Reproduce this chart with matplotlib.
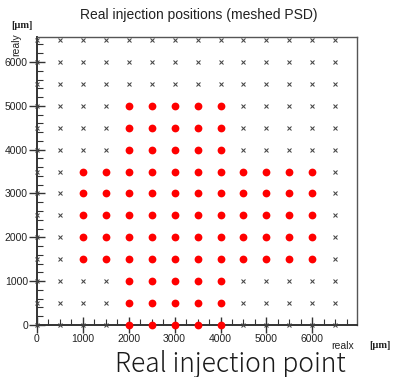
import matplotlib
matplotlib.use("Agg")
import matplotlib.pyplot as plt
from matplotlib.ticker import MultipleLocator

# Data
grid_x = [0, 500, 1000, 1500, 2000, 2500, 3000, 3500, 4000, 4500, 5000, 5500, 6000, 6500]
grid_y = [0, 500, 1000, 1500, 2000, 2500, 3000, 3500, 4000, 4500, 5000, 5500, 6000, 6500]
inner_x = [2000, 2500, 3000, 3500, 4000]
wide_x = [1000, 1500, 2000, 2500, 3000, 3500, 4000, 4500, 5000, 5500, 6000]
red_rows = [
    (0, inner_x), (500, inner_x), (1000, inner_x),
    (1500, wide_x), (2000, wide_x), (2500, wide_x), (3000, wide_x), (3500, wide_x),
    (4000, inner_x), (4500, inner_x), (5000, inner_x),
]
xticks = [0, 1000, 2000, 3000, 4000, 5000, 6000]
yticks = [0, 1000, 2000, 3000, 4000, 5000, 6000]

fig = plt.figure(figsize=(3.94, 3.77), dpi=100)
ax = fig.add_axes([37/394, 1-325/377, 320/394, 288/377])

cx = [x for y in grid_y for x in grid_x]
cy = [y for y in grid_y for x in grid_x]
ax.plot(cx, cy, 'x', color='#444444', markersize=3.4, mew=0.75, clip_on=False, zorder=3)

rx = [x for y, xs in red_rows for x in xs]
ry = [y for y, xs in red_rows for x in xs]
ax.plot(rx, ry, 'o', color='#ff0000', markersize=5.6, mew=0, clip_on=False, zorder=4)

ax.set_xlim(0, 6975)
ax.set_ylim(0, 6570)
ax.set_xticks(xticks)
ax.set_yticks(yticks)
ax.xaxis.set_minor_locator(MultipleLocator(250))
ax.yaxis.set_minor_locator(MultipleLocator(200))

lab_font = dict(family=['Liberation Sans', 'DejaVu Sans'], size=7.5)
ax.set_xticklabels([str(t) for t in xticks], fontdict=lab_font)
ax.set_yticklabels([str(t) for t in yticks], fontdict=lab_font)
ax.tick_params(axis='both', which='major', direction='inout', length=11, width=1.0,
               color='#333333', pad=1, labelcolor='#222222')
ax.tick_params(axis='both', which='minor', direction='in', length=4, width=0.8, color='#333333')
ax.tick_params(top=False, right=False)

for s in ['left', 'bottom']:
    ax.spines[s].set_linewidth(1.4)
    ax.spines[s].set_color('#333333')
for s in ['top', 'right']:
    ax.spines[s].set_linewidth(1.0)
    ax.spines[s].set_color('#555555')

fig.text(199/394, 1-15/377, 'Real injection positions (meshed PSD)', ha='center', va='center',
         family=['Liberation Sans', 'DejaVu Sans'], size=10, color='#222222')
fig.text(22/394, 1-25/377, '[μm]', ha='center', va='center',
         family=['Liberation Serif', 'DejaVu Serif'], weight='bold', size=7.5, color='#222222')
fig.text(16/394, 1-33/377, 'realy', ha='center', va='top', rotation=90,
         family=['Liberation Sans', 'DejaVu Sans'], size=7.5, color='#222222')
fig.text(343/394, 1-346/377, 'realx', ha='center', va='center',
         family=['Liberation Sans', 'DejaVu Sans'], size=7.5, color='#222222')
fig.text(380/394, 1-345/377, '[μm]', ha='center', va='center',
         family=['Liberation Serif', 'DejaVu Serif'], weight='bold', size=7.5, color='#222222')
fig.text(230/394, 1-364/377, 'Real injection point', ha='center', va='center',
         family=['Noto Sans CJK JP', 'DejaVu Sans'], weight='light', size=19, color='#1a1a1a')

fig.savefig('out.png', dpi=100)
